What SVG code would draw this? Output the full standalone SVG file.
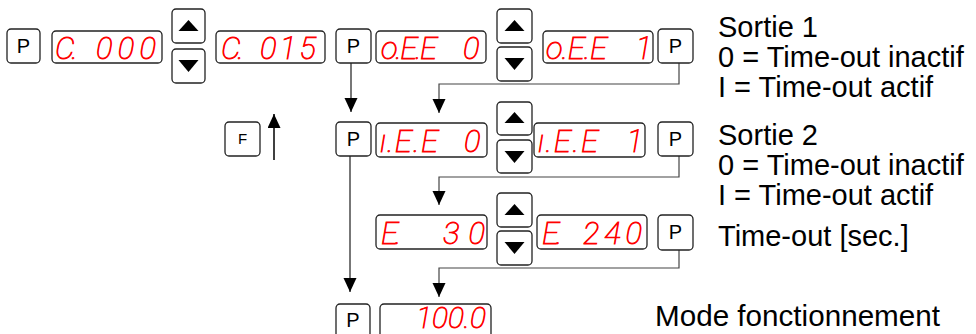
<svg xmlns="http://www.w3.org/2000/svg" width="976" height="334" viewBox="0 0 976 334">
<style>
.box{fill:#fff;stroke:#222;stroke-width:1.3}
.key{font-family:"Liberation Sans",Arial,sans-serif;font-size:20px;fill:#000;text-anchor:middle}
.seg{font-family:Roboto,"DejaVu Sans",sans-serif;font-style:italic;font-weight:100;font-size:31px;fill:#ff0000;stroke:#ff0000;stroke-width:0.8}
.lbl{font-family:"Liberation Sans",Arial,sans-serif;font-size:29px;fill:#000}
.tri{fill:#000}
.cv{fill:none;stroke:#777;stroke-width:2}
.cn{fill:none;stroke:#444;stroke-width:1.2}
</style>
<defs>
<marker id="arr" markerUnits="userSpaceOnUse" markerWidth="14" markerHeight="14" refX="14" refY="6.5" orient="auto">
<path d="M0,0 L14,6.5 L0,13 Z" fill="#000"/>
</marker>
</defs>

<g id="connectors">
<path class="cv" d="M351,63 V112" marker-end="url(#arr)"/>
<path class="cn" d="M679,63 V84 H439 V113" marker-end="url(#arr)"/>
<path class="cv" d="M350,156 V292" marker-end="url(#arr)"/>
<path class="cn" d="M679,156 V177 H439 V205" marker-end="url(#arr)"/>
<path class="cn" d="M679,250 V268 H439 V297" marker-end="url(#arr)"/>
<path fill="none" stroke="#000" stroke-width="1.5" d="M274,160 V114" marker-end="url(#arr)"/>
</g>

<!-- Row 1 -->
<g id="p1"><rect class="box" x="7" y="29" width="33" height="34" rx="4"/><text class="key" x="23.5" y="53">P</text></g>
<g id="d1"><rect class="box" x="52" y="31" width="110" height="32" rx="4"/><text class="seg" x="55" y="59" letter-spacing="-3">C.</text><text class="seg" x="96" y="59" textLength="60" lengthAdjust="spacing">000</text></g>
<g id="up1"><rect class="box" x="172" y="9" width="33" height="34" rx="4"/><polygon class="tri" points="178.5,31 198.5,31 188.5,20"/></g>
<g id="down1"><rect class="box" x="172" y="49" width="33" height="34" rx="4"/><polygon class="tri" points="178.5,60 198.5,60 188.5,72"/></g>
<g id="d2"><rect class="box" x="216" y="31" width="109" height="32" rx="4"/><text class="seg" x="221" y="59" letter-spacing="-3">C.</text><text class="seg" x="260" y="59" textLength="56" lengthAdjust="spacing">015</text></g>
<g id="p2"><rect class="box" x="336" y="29" width="35" height="34" rx="4"/><text class="key" x="353.5" y="53">P</text></g>
<g id="d3"><rect class="box" x="376" y="31" width="110" height="32" rx="4"/><text class="seg" x="381" y="59" textLength="56" lengthAdjust="spacing">o.E.E</text><text class="seg" x="463" y="59">0</text></g>
<g id="up2"><rect class="box" x="497" y="9" width="35" height="34" rx="4"/><polygon class="tri" points="504.5,31 524.5,31 514.5,20"/></g>
<g id="down2"><rect class="box" x="497" y="47" width="35" height="34" rx="4"/><polygon class="tri" points="504.5,58 524.5,58 514.5,70"/></g>
<g id="d4"><rect class="box" x="543" y="31" width="110" height="32" rx="4"/><text class="seg" x="546" y="59" textLength="61" lengthAdjust="spacing">o.E.E</text><text class="seg" x="652" y="59" text-anchor="end">1</text></g>
<g id="p3"><rect class="box" x="658" y="29" width="35" height="34" rx="4"/><text class="key" x="675.5" y="53">P</text></g>

<!-- Row 2 -->
<g id="f"><rect class="box" x="225" y="122" width="35" height="34" rx="4"/><text class="key" x="242.5" y="144" style="font-size:15px">F</text></g>
<g id="p4"><rect class="box" x="336" y="122" width="35" height="34" rx="4"/><text class="key" x="353.5" y="146">P</text></g>
<g id="d5"><rect class="box" x="376" y="123" width="111" height="34" rx="4"/><text class="seg" x="380" y="152" textLength="58" lengthAdjust="spacing">ı.E.E</text><text class="seg" x="464" y="152">0</text></g>
<g id="up3"><rect class="box" x="497" y="102" width="35" height="33" rx="4"/><polygon class="tri" points="504.5,123 524.5,123 514.5,112"/></g>
<g id="down3"><rect class="box" x="497" y="140" width="35" height="33" rx="4"/><polygon class="tri" points="504.5,151 524.5,151 514.5,163"/></g>
<g id="d6"><rect class="box" x="534" y="123" width="111" height="34" rx="4"/><text class="seg" x="538" y="152" textLength="60" lengthAdjust="spacing">ı.E.E</text><text class="seg" x="643" y="152" text-anchor="end">1</text></g>
<g id="p5"><rect class="box" x="658" y="122" width="35" height="34" rx="4"/><text class="key" x="675.5" y="146">P</text></g>

<!-- Row 3 -->
<g id="d7"><rect class="box" x="376" y="215" width="111" height="34" rx="4"/><text class="seg" x="381" y="244" letter-spacing="-3">E.</text><text class="seg" x="443" y="244" textLength="42" lengthAdjust="spacing">30</text></g>
<g id="up4"><rect class="box" x="497" y="193" width="35" height="34" rx="4"/><polygon class="tri" points="504.5,215 524.5,215 514.5,204"/></g>
<g id="down4"><rect class="box" x="497" y="231" width="35" height="34" rx="4"/><polygon class="tri" points="504.5,242 524.5,242 514.5,254"/></g>
<g id="d8"><rect class="box" x="537" y="215" width="110" height="34" rx="4"/><text class="seg" x="542" y="244" letter-spacing="-3">E.</text><text class="seg" x="583" y="244" textLength="59" lengthAdjust="spacing">240</text></g>
<g id="p6"><rect class="box" x="658" y="215" width="35" height="35" rx="4"/><text class="key" x="675.5" y="239">P</text></g>

<!-- Row 4 -->
<g id="p7"><rect class="box" x="336" y="304" width="34" height="36" rx="4"/><text class="key" x="353" y="327">P</text></g>
<g id="d9"><rect class="box" x="380" y="304" width="111" height="36" rx="4"/><text class="seg" x="416" y="328" textLength="70" lengthAdjust="spacing" style="font-size:30px">100.0</text></g>

<!-- Labels -->
<g id="labels">
<text class="lbl" x="718" y="37">Sortie 1</text>
<text class="lbl" x="718" y="67">0 = Time-out inactif</text>
<text class="lbl" x="718" y="97">I = Time-out actif</text>
<text class="lbl" x="718" y="145">Sortie 2</text>
<text class="lbl" x="718" y="175">0 = Time-out inactif</text>
<text class="lbl" x="718" y="205">I = Time-out actif</text>
<text class="lbl" x="718" y="246">Time-out [sec.]</text>
<text class="lbl" x="655" y="326" textLength="285" lengthAdjust="spacingAndGlyphs">Mode fonctionnement</text>
</g>
</svg>
